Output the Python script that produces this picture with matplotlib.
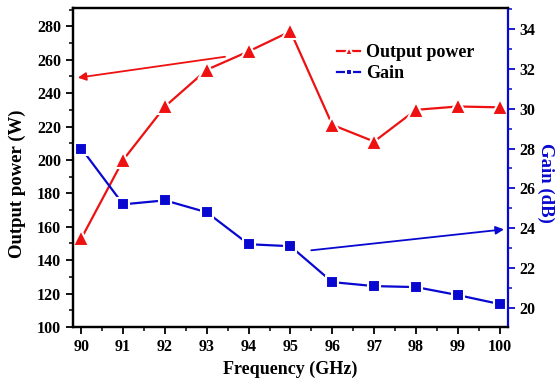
import matplotlib.pyplot as plt
from matplotlib.ticker import MultipleLocator

plt.rcParams['font.family'] = ['Liberation Serif', 'DejaVu Serif']
plt.rcParams['font.weight'] = 'bold'

freq = [90, 91, 92, 93, 94, 95, 96, 97, 98, 99, 100]
power = [153, 200, 232, 254, 265, 277, 221, 211, 230, 232, 231.5]
gain = [28.0, 25.2, 25.4, 24.8, 23.2, 23.1, 21.3, 21.1, 21.05, 20.65, 20.2]

fig = plt.figure(figsize=(5.57, 3.78), dpi=100)
ax = fig.add_axes([0.131, 0.135, 0.781, 0.844])
ax2 = ax.twinx()

l1, = ax.plot(freq, power, color='#ee1111', lw=1.6, marker='^', ms=11,
              mec='white', mew=1.5, label='Output power')
l2, = ax2.plot(freq, gain, color='#0808d0', lw=1.6, marker='s', ms=9,
               mec='white', mew=1.5, label='Gain')

ax.set_xlim(89.8, 100.2)
ax.set_ylim(100, 291)
ax2.set_ylim(19.05, 35.05)

ax.xaxis.set_major_locator(MultipleLocator(1))
ax.xaxis.set_minor_locator(MultipleLocator(0.5))
ax.yaxis.set_major_locator(MultipleLocator(20))
ax.yaxis.set_minor_locator(MultipleLocator(10))
ax2.yaxis.set_major_locator(MultipleLocator(2))
ax2.yaxis.set_minor_locator(MultipleLocator(1))

for a in (ax, ax2):
    a.tick_params(which='major', direction='out', length=5, width=1.3, labelsize=11.5)
    a.tick_params(which='minor', direction='out', length=3, width=1.1)
    for s in a.spines.values():
        s.set_linewidth(1.6)
ax.tick_params(axis='y', right=False, which='both')
ax2.tick_params(axis='y', colors='#0808d0', labelcolor='black', which='both')
ax2.spines['right'].set_color('#0808d0')
ax.spines['right'].set_visible(False)

ax.set_xlabel('Frequency (GHz)', fontsize=13, fontweight='bold', labelpad=4)
ax.set_ylabel('Output power (W)', fontsize=13.5, fontweight='bold')
ax.yaxis.set_label_coords(-0.108, 0.45)
ax2.set_ylabel('Gain (dB)', fontsize=13.5, fontweight='bold', color='#0808d0',
               rotation=270)
ax2.yaxis.label.set_verticalalignment('top')
ax2.yaxis.set_label_coords(1.106, 0.45)

ax.annotate('', xy=(89.85, 249), xytext=(93.5, 262),
            arrowprops=dict(arrowstyle='-|>', color='#ee1111', lw=1.3,
                            mutation_scale=12))
ax2.annotate('', xy=(100.17, 23.96), xytext=(95.43, 22.88),
             arrowprops=dict(arrowstyle='-|>', color='#0808d0', lw=1.3,
                             mutation_scale=12))

ax.legend(handles=[l1, l2], loc='upper left', bbox_to_anchor=(0.59, 0.91),
          frameon=False, fontsize=13, markerscale=0.55, handlelength=1.3,
          handletextpad=0.3, labelspacing=0.25, borderaxespad=0)

fig.savefig('out.png', dpi=100)
